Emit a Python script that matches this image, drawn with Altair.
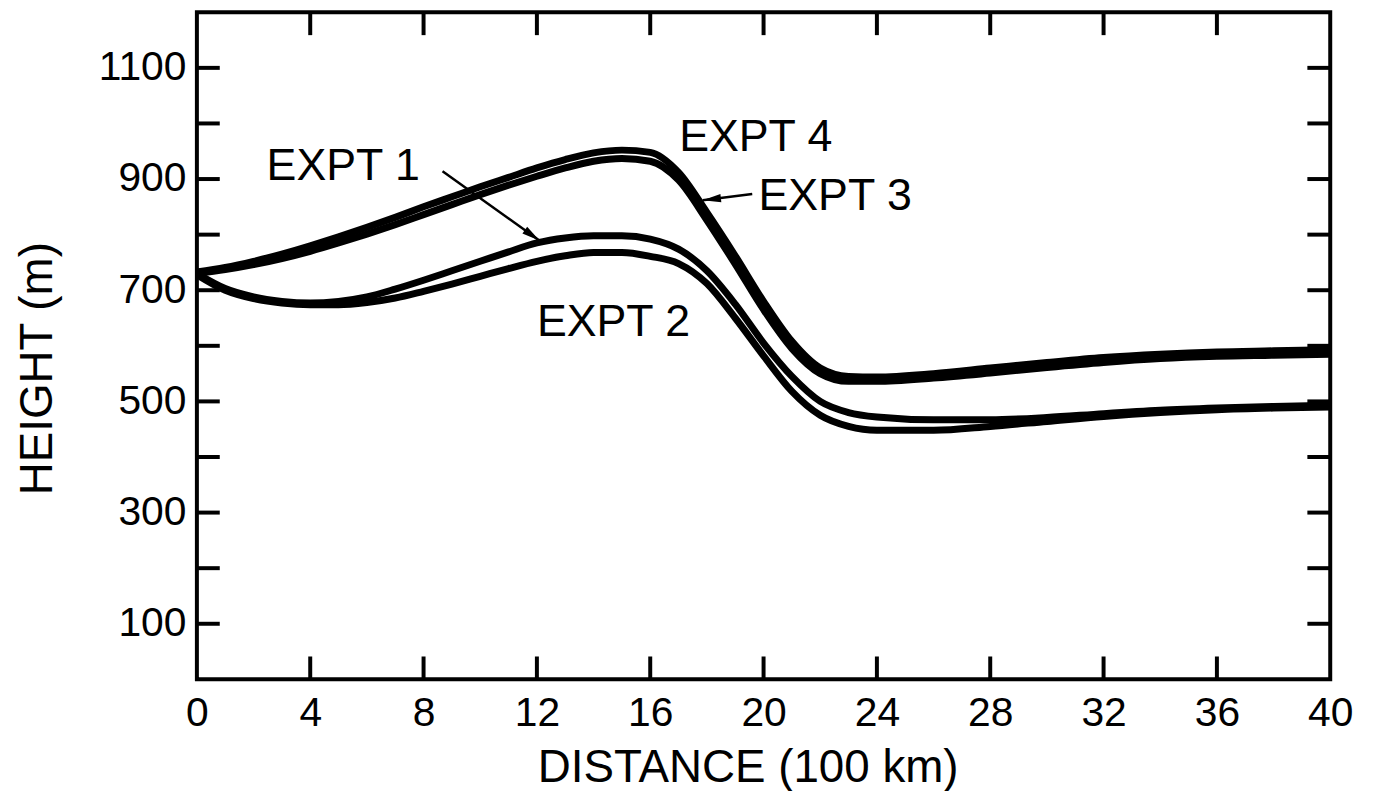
import altair as alt
import pandas as pd

# ---- data ----
distance = [0, 1, 2, 3, 4, 5, 6, 7, 8, 9, 10, 11, 12, 13, 14, 15, 16, 17, 18, 19,
            20, 21, 22, 23, 24, 26, 28, 30, 32, 34, 36, 38, 40]
expt1 = [730, 703, 688, 680, 677, 680, 688, 702, 718, 735, 752, 769, 785, 794, 798, 798,
         792, 774, 735, 675, 605, 545, 500, 480, 472, 467, 467, 471, 478, 484, 488, 491, 493]
expt2 = [728, 700, 685, 677, 674, 674, 678, 686, 698, 711, 725, 739, 752, 762, 768, 768,
         761, 748, 712, 650, 582, 518, 475, 455, 448, 448, 455, 464, 473, 480, 485, 488, 490]
expt3 = [730, 737, 746, 757, 770, 785, 801, 818, 836, 854, 872, 889, 905, 920, 932, 937,
         932, 898, 826, 747, 665, 595, 550, 536, 536, 542, 551, 561, 570, 577, 581, 583, 585]
expt4 = [733, 741, 752, 765, 780, 796, 813, 831, 850, 868, 886, 903, 920, 935, 947, 952,
         948, 912, 840, 762, 680, 608, 560, 545, 544, 550, 560, 570, 579, 585, 589, 591, 593]

x_tick_labels = [0, 4, 8, 12, 16, 20, 24, 28, 32, 36, 40]
x_minor = [4, 8, 12, 16, 20, 24, 28, 32, 36]
y_tick_labels = [100, 300, 500, 700, 900, 1100]
y_minor = [100, 200, 300, 400, 500, 600, 700, 800, 900, 1000, 1100]

label_text = ["EXPT 1", "EXPT 4", "EXPT 3", "EXPT 2"]
label_x = [2.46, 17.02, 19.82, 12.0]
label_y = [923, 976, 869, 642]

arrow_x1 = [8.67, 19.6]
arrow_y1 = [914, 873]
arrow_x2 = [12.1, 17.85]
arrow_y2 = [789, 862]
arrow_angle = [125.5, 263.7]

W, H = 1140, 671
TICK = 23
FONT = "Liberation Sans"

xscale = alt.Scale(domain=[0, 40], nice=False, zero=False)
yscale = alt.Scale(domain=[0, 1200], nice=False, zero=False)

rows = []
for name, vals in [("EXPT 1", expt1), ("EXPT 2", expt2), ("EXPT 3", expt3), ("EXPT 4", expt4)]:
    for d, v in zip(distance, vals):
        rows.append({"d": d, "v": v, "series": name})
lines_df = pd.DataFrame(rows)

lines = alt.Chart(lines_df).mark_line(
    color="black", strokeWidth=7, interpolate="monotone", strokeCap="butt"
).encode(
    x=alt.X("d:Q", scale=xscale,
            axis=alt.Axis(values=x_tick_labels, title="DISTANCE (100 km)",
                          titleX=554, titleY=89, titleAngle=0,
                          titleAlign="center", titleBaseline="middle",
                          labelPadding=14, labelFlush=False, format="d")),
    y=alt.Y("v:Q", scale=yscale,
            axis=alt.Axis(values=y_tick_labels, title="HEIGHT (m)",
                          titleX=-160, titleY=358, titleAngle=270,
                          titleAlign="center", titleBaseline="middle",
                          labelPadding=11, labelFlush=False, format="d")),
    detail="series:N",
)

ydf = pd.DataFrame({"v": y_minor})
xdf = pd.DataFrame({"d": x_minor})

yt_left = alt.Chart(ydf).mark_rule(color="black", strokeWidth=4).encode(
    y=alt.Y("v:Q", scale=yscale), x=alt.value(0), x2=alt.value(TICK))
yt_right = alt.Chart(ydf).mark_rule(color="black", strokeWidth=4).encode(
    y=alt.Y("v:Q", scale=yscale), x=alt.value(W - TICK), x2=alt.value(W))
xt_bottom = alt.Chart(xdf).mark_rule(color="black", strokeWidth=4).encode(
    x=alt.X("d:Q", scale=xscale), y=alt.value(H - TICK), y2=alt.value(H))
xt_top = alt.Chart(xdf).mark_rule(color="black", strokeWidth=4).encode(
    x=alt.X("d:Q", scale=xscale), y=alt.value(0), y2=alt.value(TICK))

lab_df = pd.DataFrame({"d": label_x, "v": label_y, "t": label_text})
labels = alt.Chart(lab_df).mark_text(
    align="left", baseline="middle", font=FONT, fontSize=45, color="black"
).encode(
    x=alt.X("d:Q", scale=xscale),
    y=alt.Y("v:Q", scale=yscale),
    text="t:N",
)

arr_df = pd.DataFrame({"d": arrow_x1, "v": arrow_y1, "d2": arrow_x2,
                       "v2": arrow_y2, "ang": arrow_angle})
arrow_lines = alt.Chart(arr_df).mark_rule(color="black", strokeWidth=2.5).encode(
    x=alt.X("d:Q", scale=xscale),
    y=alt.Y("v:Q", scale=yscale),
    x2="d2:Q", y2="v2:Q",
)
head_df = pd.DataFrame({"d": arrow_x2, "v": arrow_y2, "ang": arrow_angle})
arrow_heads = alt.Chart(head_df).mark_point(
    shape="M0,0L0.4,1.8L-0.4,1.8Z", filled=True, color="black", opacity=1, size=420
).encode(
    x=alt.X("d:Q", scale=xscale),
    y=alt.Y("v:Q", scale=yscale),
    angle=alt.Angle("ang:Q", scale=None),
)

chart = alt.layer(
    lines, yt_left, yt_right, xt_bottom, xt_top, labels, arrow_lines, arrow_heads
).properties(
    width=W, height=H,
    background="white",
    autosize=alt.AutoSizeParams(type="none"),
    padding={"left": 190, "top": 2, "right": 40, "bottom": 110},
).configure_view(
    stroke="black", strokeWidth=4
).configure_axis(
    domain=False, ticks=False, grid=False,
    labelFont=FONT, labelFontSize=41, labelColor="black",
    titleFont=FONT, titleFontSize=46, titleFontWeight="normal", titleColor="black",
)

chart.save("out.html", embed_options={"renderer": "svg", "actions": False})
